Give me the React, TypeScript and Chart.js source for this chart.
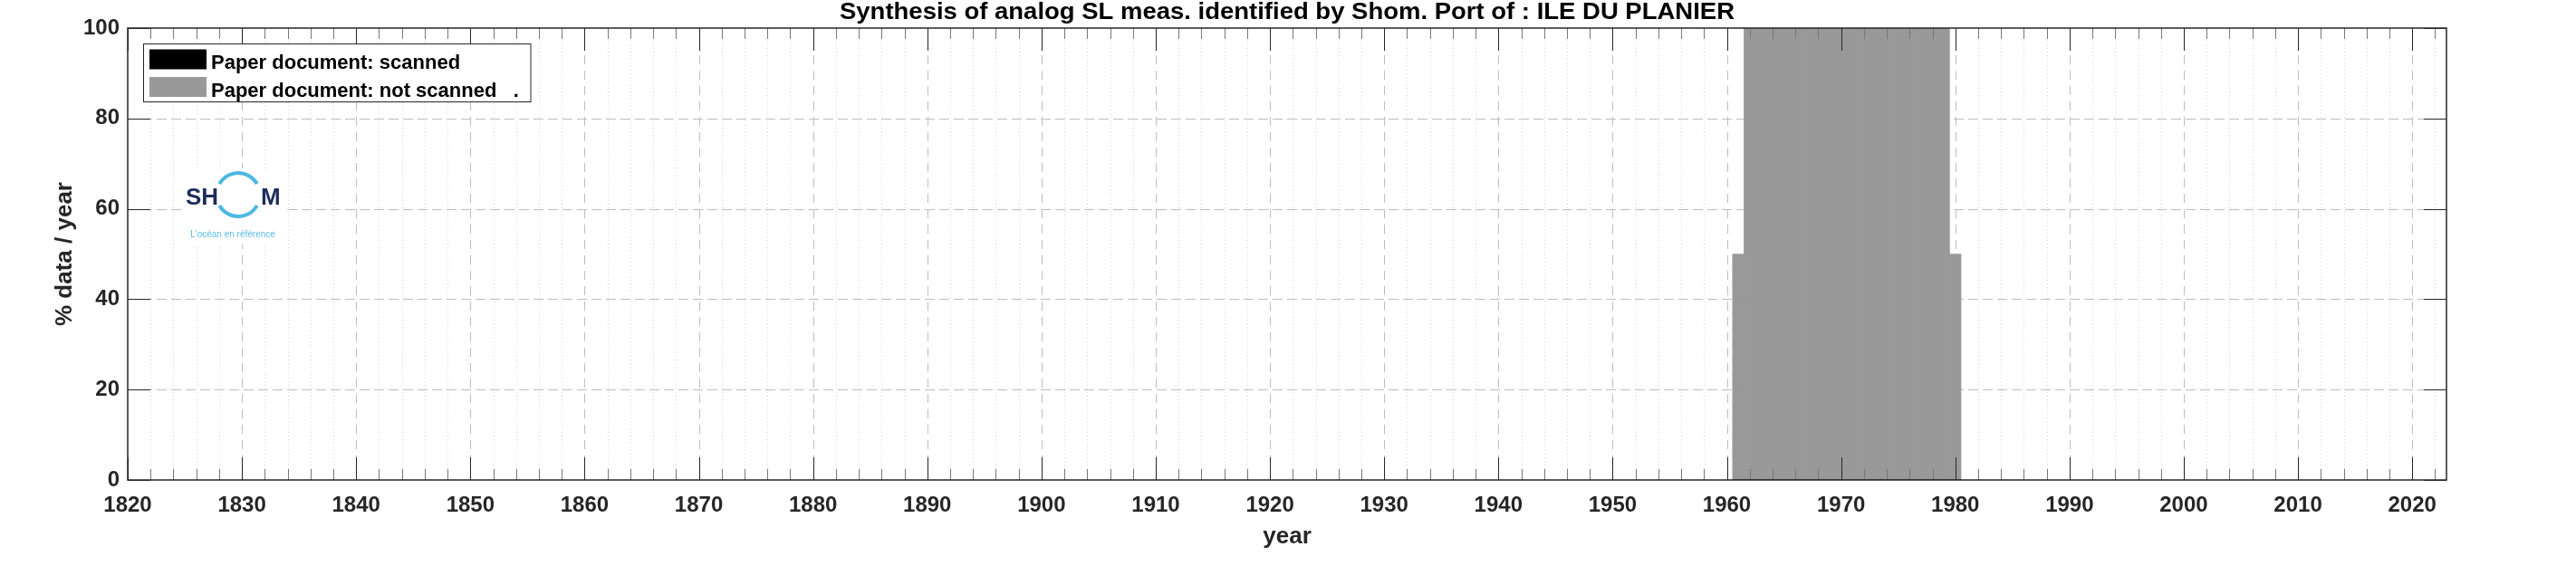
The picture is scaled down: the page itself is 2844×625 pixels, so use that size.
import React, { useEffect, useRef } from 'react';
import { Chart, registerables } from 'chart.js';

Chart.register(...registerables);

const TITLE = 'Synthesis of analog SL meas. identified by Shom. Port of : ILE DU PLANIER';
const X_TITLE = 'year';
const Y_TITLE = '% data / year';

const YEARS = [1961, 1962, 1963, 1964, 1965, 1966, 1967, 1968, 1969, 1970, 1971, 1972, 1973, 1974, 1975, 1976, 1977, 1978, 1979, 1980];
const NOT_SCANNED = [50, 100, 100, 100, 100, 100, 100, 100, 100, 100, 100, 100, 100, 100, 100, 100, 100, 100, 100, 50];
const SCANNED = [0, 0, 0, 0, 0, 0, 0, 0, 0, 0, 0, 0, 0, 0, 0, 0, 0, 0, 0, 0];

const SERIES_LABELS = ['Paper document: scanned', 'Paper document: not scanned   .'];
const SERIES_COLORS = ['#000000', '#999999'];

const X_MIN = 1820;
const X_MAX = 2023;
const X_MAJOR = 10;
const X_MINOR = 2;
const Y_MIN = 0;
const Y_MAX = 100;
const Y_MAJOR = 20;

const FONT = '"Liberation Sans", Arial, Helvetica, sans-serif';
const AXIS_COLOR = '#262626';

function seg(ctx: CanvasRenderingContext2D, x1: number, y1: number, x2: number, y2: number) {
  ctx.beginPath();
  ctx.moveTo(x1, y1);
  ctx.lineTo(x2, y2);
  ctx.stroke();
}

const matlabPlugin = {
  id: 'matlabLook',
  beforeDatasetsDraw(chart: any) {
    const { ctx, chartArea: a, scales } = chart;
    const x = scales.x;
    const y = scales.y;
    ctx.save();
    ctx.lineWidth = 1;
    // minor vertical dotted grid
    ctx.strokeStyle = '#d6d6d6';
    ctx.setLineDash([1, 3]);
    for (let v = X_MIN + X_MINOR; v < X_MAX; v += X_MINOR) {
      if (v % X_MAJOR === 0) continue;
      const px = Math.round(x.getPixelForValue(v)) + 0.5;
      seg(ctx, px, a.bottom, px, a.top);
    }
    // major dashed grid
    ctx.strokeStyle = '#bdbdbd';
    ctx.setLineDash([10, 7]);
    x.ticks.forEach((t: any) => {
      if (t.value <= X_MIN || t.value >= X_MAX) return;
      const px = Math.round(x.getPixelForValue(t.value)) + 0.5;
      seg(ctx, px, a.bottom, px, a.top);
    });
    ctx.setLineDash([11, 5]);
    y.ticks.forEach((t: any) => {
      if (t.value <= Y_MIN || t.value >= Y_MAX) return;
      const py = Math.round(y.getPixelForValue(t.value)) + 0.5;
      seg(ctx, a.left, py, a.right, py);
    });
    ctx.restore();
  },
  afterDatasetsDraw(chart: any) {
    const { ctx, chartArea: a, scales } = chart;
    const x = scales.x;
    const y = scales.y;
    ctx.save();
    ctx.setLineDash([]);
    ctx.lineWidth = 1;
    // minor x ticks
    ctx.strokeStyle = '#777777';
    for (let v = X_MIN + X_MINOR; v < X_MAX; v += X_MINOR) {
      if (v % X_MAJOR === 0) continue;
      const px = Math.round(x.getPixelForValue(v)) + 0.5;
      seg(ctx, px, a.bottom, px, a.bottom - 12);
      seg(ctx, px, a.top, px, a.top + 12);
    }
    // major ticks
    ctx.strokeStyle = AXIS_COLOR;
    x.ticks.forEach((t: any) => {
      const px = Math.round(x.getPixelForValue(t.value)) + 0.5;
      seg(ctx, px, a.bottom, px, a.bottom - 25);
      seg(ctx, px, a.top, px, a.top + 25);
    });
    y.ticks.forEach((t: any) => {
      const py = Math.round(y.getPixelForValue(t.value)) + 0.5;
      seg(ctx, a.left, py, a.left + 25, py);
      seg(ctx, a.right, py, a.right - 25, py);
    });
    // box
    ctx.lineWidth = 1.5;
    ctx.strokeRect(a.left, a.top, a.right - a.left, a.bottom - a.top);
    ctx.restore();
  },
  afterDraw(chart: any) {
    const { ctx, chartArea: a } = chart;
    ctx.save();
    // title (stretched horizontally to match the reference's wider face)
    ctx.fillStyle = '#000';
    ctx.font = `bold 25px ${FONT}`;
    ctx.textAlign = 'center';
    ctx.textBaseline = 'alphabetic';
    const tw = ctx.measureText(TITLE).width;
    const sx = 988 / tw;
    ctx.save();
    ctx.translate((a.left + a.right) / 2, 21);
    ctx.scale(sx, 1);
    ctx.fillText(TITLE, 0, 0);
    ctx.restore();

    // legend
    const lx = 158.5, ly = 48.5, lw = 427.5, lh = 64;
    ctx.fillStyle = '#fff';
    ctx.fillRect(lx, ly, lw, lh);
    ctx.strokeStyle = AXIS_COLOR;
    ctx.lineWidth = 1;
    ctx.strokeRect(lx, ly, lw, lh);
    ctx.font = `bold 22px ${FONT}`;
    ctx.textAlign = 'left';
    chart.data.datasets.forEach((ds: any, i: number) => {
      const top = 54.5 + i * 30.5;
      ctx.fillStyle = ds.backgroundColor;
      ctx.fillRect(165, top, 63, 22);
      ctx.fillStyle = '#000';
      ctx.fillText(ds.label, 233, top + 21.5);
    });

    // logo
    ctx.fillStyle = '#fff';
    ctx.fillRect(200, 186, 112, 84);
    ctx.font = `bold 26px ${FONT}`;
    ctx.fillStyle = '#1d2d5c';
    ctx.textAlign = 'left';
    ctx.fillText('SH', 205, 226);
    ctx.fillText('M', 288, 226);
    ctx.strokeStyle = '#4cb8e2';
    ctx.lineWidth = 4;
    ctx.beginPath();
    ctx.arc(263, 215, 24, (-150 * Math.PI) / 180, (-30 * Math.PI) / 180);
    ctx.stroke();
    ctx.beginPath();
    ctx.arc(263, 215, 24, (30 * Math.PI) / 180, (150 * Math.PI) / 180);
    ctx.stroke();
    ctx.font = `10px ${FONT}`;
    ctx.fillStyle = '#5bbde6';
    ctx.textAlign = 'center';
    ctx.textBaseline = 'middle';
    ctx.fillText("L'océan en référence", 257, 259);
    ctx.restore();
  },
};

export default function App() {
  const ref = useRef<HTMLCanvasElement>(null);

  useEffect(() => {
    document.body.style.margin = '0';
    const canvas = ref.current;
    if (!canvas) return;
    const chart = new Chart(canvas, {
      type: 'bar',
      data: {
        datasets: [
          {
            label: SERIES_LABELS[0],
            data: YEARS.map((yr, i) => ({ x: yr, y: SCANNED[i] })),
            backgroundColor: SERIES_COLORS[0],
            borderWidth: 0,
            grouped: false,
            barPercentage: 1,
            categoryPercentage: 1,
          } as any,
          {
            label: SERIES_LABELS[1],
            data: YEARS.map((yr, i) => ({ x: yr, y: NOT_SCANNED[i] })),
            backgroundColor: SERIES_COLORS[1],
            borderWidth: 0,
            grouped: false,
            barPercentage: 1,
            categoryPercentage: 1,
          } as any,
        ],
      },
      options: {
        responsive: false,
        animation: false,
        devicePixelRatio: 1,
        events: [],
        layout: { padding: { top: 31, right: 143, left: 0, bottom: 0 } },
        plugins: {
          legend: { display: false },
          title: { display: false },
          tooltip: { enabled: false },
        },
        scales: {
          x: {
            type: 'linear',
            min: X_MIN,
            max: X_MAX,
            offset: false,
            grid: { display: false, drawTicks: false },
            border: { display: false },
            ticks: {
              stepSize: X_MAJOR,
              includeBounds: false,
              autoSkip: false,
              maxRotation: 0,
              minRotation: 0,
              padding: 14,
              color: AXIS_COLOR,
              font: { family: FONT, size: 24, weight: 'bold' },
              callback: (v: any) => String(v),
            },
            title: {
              display: true,
              text: X_TITLE,
              color: AXIS_COLOR,
              font: { family: FONT, size: 26, weight: 'bold', lineHeight: 1.2 },
              padding: { top: 0, bottom: 17 },
            },
            afterFit: (s: any) => {
              s.height = 95;
            },
          },
          y: {
            type: 'linear',
            min: Y_MIN,
            max: Y_MAX,
            grid: { display: false, drawTicks: false },
            border: { display: false },
            ticks: {
              stepSize: Y_MAJOR,
              padding: 9,
              color: AXIS_COLOR,
              font: { family: FONT, size: 24, weight: 'bold' },
              callback: (v: any) => String(v),
            },
            title: {
              display: true,
              text: Y_TITLE,
              color: AXIS_COLOR,
              font: { family: FONT, size: 26, weight: 'bold', lineHeight: 1.2 },
              padding: { top: 56, bottom: 0 },
            },
            afterFit: (s: any) => {
              s.width = 141;
            },
          },
        },
      } as any,
      plugins: [matlabPlugin],
    });
    return () => chart.destroy();
  }, []);

  return (
    <div style={{ width: 2844, height: 625, background: '#fff' }}>
      <canvas ref={ref} width={2844} height={625} style={{ display: 'block', width: 2844, height: 625 }} />
    </div>
  );
}
